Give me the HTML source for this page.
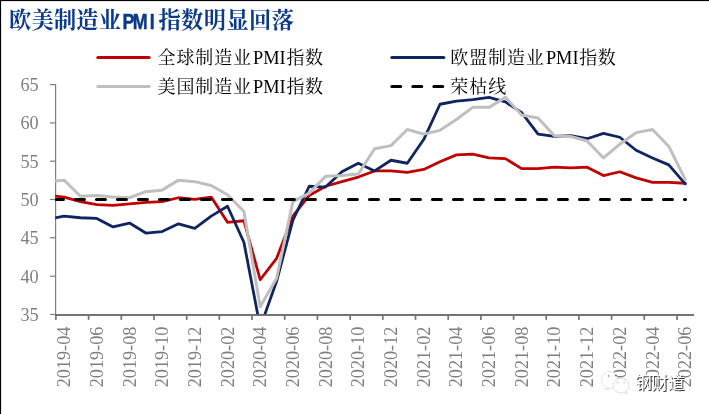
<!DOCTYPE html>
<html lang="zh"><head><meta charset="utf-8"><title>欧美制造业PMI指数明显回落</title>
<style>html,body{margin:0;padding:0;background:#fff;overflow:hidden}svg{display:block;will-change:transform}text{font-family:"Liberation Serif","Noto Serif CJK SC",serif}</style></head><body>
<svg width="709" height="414" viewBox="0 0 709 414">
<rect width="709" height="414" fill="#fff"/>
<rect x="0" y="0" width="709" height="1.1" fill="#000"/>
<rect x="0" y="0" width="1.1" height="414" fill="#000"/>
<g fill="#0B3A8C" aria-label="欧美制造业PMI指数明显回落"><text x="9" y="28" font-size="22.2" font-weight="bold" textLength="112" lengthAdjust="spacing" fill="#0B3A8C" stroke="none">欧美制造业</text></g>
<text transform="translate(123.7,28.7) scale(0.79,1)" x="6.17 20.79 36.04" text-anchor="middle" font-size="22.6" style="font-family:'Liberation Sans',sans-serif;font-weight:bold" fill="#0B3A8C" stroke="#0B3A8C" stroke-width="0.5">PMI</text>
<text x="158.4" y="28" font-size="22.2" font-weight="bold" textLength="135.5" lengthAdjust="spacing" fill="#0B3A8C" stroke="none">指数明显回落</text>
<line x1="97.8" y1="57.5" x2="149.1" y2="57.5" stroke="#C00000" stroke-width="3" stroke-linecap="round"/>
<g fill="#000" aria-label="全球制造业PMI指数"><text x="157.5" y="63.6" font-size="18" textLength="93.5" lengthAdjust="spacing" fill="#000" stroke="none">全球制造业</text><text x="253.1" y="64.1" font-size="17.8" textLength="32.6" lengthAdjust="spacingAndGlyphs" fill="#000">PMI</text><text x="286.5" y="63.6" font-size="18" textLength="36.5" lengthAdjust="spacing" fill="#000" stroke="none">指数</text></g>
<line x1="97.8" y1="86.5" x2="149.1" y2="86.5" stroke="#BFBFBF" stroke-width="3" stroke-linecap="round"/>
<g fill="#000" aria-label="美国制造业PMI指数"><text x="157.5" y="92.8" font-size="18" textLength="93.5" lengthAdjust="spacing" fill="#000" stroke="none">美国制造业</text><text x="253.1" y="93.3" font-size="17.8" textLength="32.6" lengthAdjust="spacingAndGlyphs" fill="#000">PMI</text><text x="286.5" y="92.8" font-size="18" textLength="36.5" lengthAdjust="spacing" fill="#000" stroke="none">指数</text></g>
<line x1="391.8" y1="57.5" x2="443.8" y2="57.5" stroke="#0F2461" stroke-width="3" stroke-linecap="round"/>
<g fill="#000" aria-label="欧盟制造业PMI指数"><text x="450.3" y="63.6" font-size="18" textLength="93.5" lengthAdjust="spacing" fill="#000" stroke="none">欧盟制造业</text><text x="545.9" y="64.1" font-size="17.8" textLength="32.6" lengthAdjust="spacingAndGlyphs" fill="#000">PMI</text><text x="579.3" y="63.6" font-size="18" textLength="36.5" lengthAdjust="spacing" fill="#000" stroke="none">指数</text></g>
<line x1="391.9" y1="86.5" x2="442.8" y2="86.5" stroke="#000" stroke-width="3.2" stroke-dasharray="8.8 12.2" stroke-linecap="round"/>
<g fill="#000" aria-label="荣枯线"><text x="450.3" y="92.8" font-size="18" textLength="56" lengthAdjust="spacing" fill="#000" stroke="none">荣枯线</text></g>
<g stroke="#7F7F7F" fill="none">
<line x1="55.6" y1="84" x2="55.6" y2="315" stroke-width="1.2"/>
<line x1="50" y1="314.5" x2="55.6" y2="314.5" stroke-width="1.2"/>
<line x1="50" y1="276.2" x2="55.6" y2="276.2" stroke-width="1.2"/>
<line x1="50" y1="237.8" x2="55.6" y2="237.8" stroke-width="1.2"/>
<line x1="50" y1="199.5" x2="55.6" y2="199.5" stroke-width="1.2"/>
<line x1="50" y1="161.2" x2="55.6" y2="161.2" stroke-width="1.2"/>
<line x1="50" y1="122.9" x2="55.6" y2="122.9" stroke-width="1.2"/>
<line x1="50" y1="84.6" x2="55.6" y2="84.6" stroke-width="1.2"/>
<line x1="55" y1="315" x2="694" y2="315" stroke-width="2" stroke="#747474"/>
<line x1="55.9" y1="315" x2="55.9" y2="319.9" stroke-width="1.7" stroke="#747474"/>
<line x1="88.6" y1="315" x2="88.6" y2="319.9" stroke-width="1.7" stroke="#747474"/>
<line x1="121.3" y1="315" x2="121.3" y2="319.9" stroke-width="1.7" stroke="#747474"/>
<line x1="154.0" y1="315" x2="154.0" y2="319.9" stroke-width="1.7" stroke="#747474"/>
<line x1="186.7" y1="315" x2="186.7" y2="319.9" stroke-width="1.7" stroke="#747474"/>
<line x1="219.3" y1="315" x2="219.3" y2="319.9" stroke-width="1.7" stroke="#747474"/>
<line x1="252.0" y1="315" x2="252.0" y2="319.9" stroke-width="1.7" stroke="#747474"/>
<line x1="284.7" y1="315" x2="284.7" y2="319.9" stroke-width="1.7" stroke="#747474"/>
<line x1="317.4" y1="315" x2="317.4" y2="319.9" stroke-width="1.7" stroke="#747474"/>
<line x1="350.1" y1="315" x2="350.1" y2="319.9" stroke-width="1.7" stroke="#747474"/>
<line x1="382.8" y1="315" x2="382.8" y2="319.9" stroke-width="1.7" stroke="#747474"/>
<line x1="415.5" y1="315" x2="415.5" y2="319.9" stroke-width="1.7" stroke="#747474"/>
<line x1="448.2" y1="315" x2="448.2" y2="319.9" stroke-width="1.7" stroke="#747474"/>
<line x1="480.9" y1="315" x2="480.9" y2="319.9" stroke-width="1.7" stroke="#747474"/>
<line x1="513.6" y1="315" x2="513.6" y2="319.9" stroke-width="1.7" stroke="#747474"/>
<line x1="546.2" y1="315" x2="546.2" y2="319.9" stroke-width="1.7" stroke="#747474"/>
<line x1="578.9" y1="315" x2="578.9" y2="319.9" stroke-width="1.7" stroke="#747474"/>
<line x1="611.6" y1="315" x2="611.6" y2="319.9" stroke-width="1.7" stroke="#747474"/>
<line x1="644.3" y1="315" x2="644.3" y2="319.9" stroke-width="1.7" stroke="#747474"/>
<line x1="677.0" y1="315" x2="677.0" y2="319.9" stroke-width="1.7" stroke="#747474"/>
</g>
<g font-size="18.3" fill="#7F7F7F" text-anchor="end">
<text x="38.7" y="321.0">35</text>
<text x="38.7" y="282.7">40</text>
<text x="38.7" y="244.3">45</text>
<text x="38.7" y="206.0">50</text>
<text x="38.7" y="167.7">55</text>
<text x="38.7" y="129.4">60</text>
<text x="38.7" y="91.1">65</text>
</g>
<g font-size="18.2" fill="#7F7F7F">
<text transform="translate(70.1,387.3) rotate(-90)">2019-04</text>
<text transform="translate(102.8,387.3) rotate(-90)">2019-06</text>
<text transform="translate(135.5,387.3) rotate(-90)">2019-08</text>
<text transform="translate(168.1,387.3) rotate(-90)">2019-10</text>
<text transform="translate(200.8,387.3) rotate(-90)">2019-12</text>
<text transform="translate(233.5,387.3) rotate(-90)">2020-02</text>
<text transform="translate(266.2,387.3) rotate(-90)">2020-04</text>
<text transform="translate(298.9,387.3) rotate(-90)">2020-06</text>
<text transform="translate(331.6,387.3) rotate(-90)">2020-08</text>
<text transform="translate(364.3,387.3) rotate(-90)">2020-10</text>
<text transform="translate(397.0,387.3) rotate(-90)">2020-12</text>
<text transform="translate(429.7,387.3) rotate(-90)">2021-02</text>
<text transform="translate(462.4,387.3) rotate(-90)">2021-04</text>
<text transform="translate(495.0,387.3) rotate(-90)">2021-06</text>
<text transform="translate(527.7,387.3) rotate(-90)">2021-08</text>
<text transform="translate(560.4,387.3) rotate(-90)">2021-10</text>
<text transform="translate(593.1,387.3) rotate(-90)">2021-12</text>
<text transform="translate(625.8,387.3) rotate(-90)">2022-02</text>
<text transform="translate(658.5,387.3) rotate(-90)">2022-04</text>
<text transform="translate(691.2,387.3) rotate(-90)">2022-06</text>
</g>
<defs><clipPath id="plot"><rect x="55.2" y="80" width="640" height="234.2"/></clipPath></defs>
<g clip-path="url(#plot)" fill="none" stroke-linejoin="round" stroke-linecap="round">
<g transform="translate(0,0.55)">
<polyline points="47.7,194.9 64.1,196.5 80.4,201.1 96.8,204.1 113.1,204.9 129.5,203.4 145.8,201.8 162.1,201.1 178.5,197.2 194.8,198.8 211.2,196.5 227.5,221.8 243.9,220.2 260.2,279.2 276.6,257.8 292.9,215.6 309.2,194.9 325.6,185.7 341.9,181.1 358.3,176.5 374.6,170.4 391.0,170.4 407.3,171.9 423.7,168.9 440.0,161.2 456.4,154.3 472.7,153.5 489.0,157.4 505.4,158.1 521.7,168.1 538.1,168.1 554.4,166.6 570.8,167.3 587.1,166.6 603.5,175.0 619.8,171.2 636.1,177.3 652.5,181.9 668.8,181.9 685.2,182.7" stroke="#C00000" stroke-width="2.8"/>
<polyline points="47.7,218.7 64.1,215.6 80.4,217.2 96.8,217.9 113.1,226.4 129.5,222.5 145.8,232.5 162.1,231.0 178.5,223.3 194.8,227.9 211.2,215.6 227.5,205.7 243.9,241.7 260.2,326.8 276.6,280.8 292.9,219.5 309.2,185.7 325.6,186.5 341.9,171.2 358.3,162.7 374.6,170.4 391.0,159.7 407.3,162.7 423.7,139.0 440.0,103.7 456.4,100.6 472.7,99.1 489.0,96.8 505.4,101.4 521.7,112.1 538.1,133.6 554.4,135.9 570.8,135.1 587.1,138.2 603.5,132.8 619.8,136.7 636.1,149.7 652.5,157.4 668.8,164.3 685.2,183.4" stroke="#0F2461" stroke-width="2.8"/>
<polyline points="47.7,181.1 64.1,179.6 80.4,195.7 96.8,194.9 113.1,196.5 129.5,197.2 145.8,191.1 162.1,189.6 178.5,179.6 194.8,181.1 211.2,185.0 227.5,194.2 243.9,211.0 260.2,306.1 276.6,277.7 292.9,201.1 309.2,192.6 325.6,175.8 341.9,175.0 358.3,173.5 374.6,148.2 391.0,145.1 407.3,129.0 423.7,133.6 440.0,129.8 456.4,119.0 472.7,106.8 489.0,106.8 505.4,96.8 521.7,114.4 538.1,117.5 554.4,135.1 570.8,135.9 587.1,140.5 603.5,157.4 619.8,143.6 636.1,132.1 652.5,129.0 668.8,145.9 685.2,178.8" stroke="#BFBFBF" stroke-width="3"/>
</g>
<line x1="54.55" y1="199.5" x2="685.5" y2="199.5" stroke="#000" stroke-width="3.2" stroke-dasharray="8.8 12.2" stroke-linecap="round"/>
</g>
<g aria-label="钢财道">
<path d="M610.5 388.2l-5.2 1.4l1.6-2.6z" fill="#fff" stroke="#d4d4d4" stroke-width="0.7"/>
<ellipse cx="609.6" cy="380" rx="8" ry="8.6" fill="#fff" stroke="#dcdcdc" stroke-width="0.8"/>
<path d="M624 392.4l3.2 1.4l-1-2.4z" fill="#fff" stroke="#cfcfcf" stroke-width="0.7"/>
<ellipse cx="621" cy="385.7" rx="8" ry="7.4" fill="#fff" stroke="#d6d6d6" stroke-width="0.8"/>
<circle cx="608.6" cy="376" r="0.9" fill="#999"/><circle cx="616" cy="375.4" r="0.9" fill="#555"/>
<circle cx="617.8" cy="382.4" r="0.8" fill="#ccc"/><circle cx="624" cy="382.6" r="0.8" fill="#ccc"/>
<text x="636.2" y="390.2" font-size="16.6" textLength="49.5" lengthAdjust="spacing" style="font-family:'Liberation Sans','Noto Sans CJK SC',sans-serif" fill="#3c3c3c" stroke="none">钢财道</text>
<text x="635" y="389" font-size="16.6" textLength="49.5" lengthAdjust="spacing" style="font-family:'Liberation Sans','Noto Sans CJK SC',sans-serif" fill="#fff" stroke="none">钢财道</text>
</g>
</svg></body></html>
